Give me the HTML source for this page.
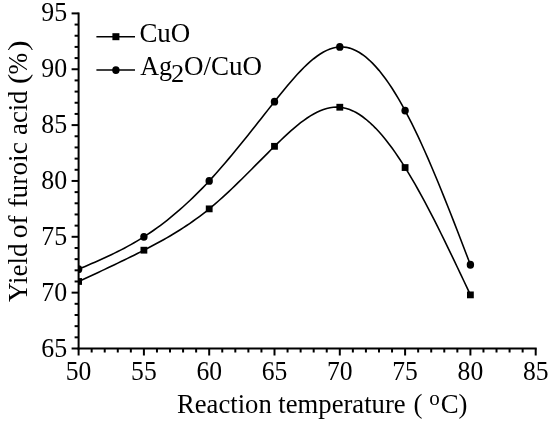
<!DOCTYPE html>
<html><head><meta charset="utf-8"><title>chart</title>
<style>
html,body{margin:0;padding:0;background:#fff;}
svg{display:block;}
text{font-family:"Liberation Serif","Times New Roman",serif;fill:#000;}
</style></head><body>
<svg width="550" height="425" viewBox="0 0 550 425">
<rect width="550" height="425" fill="#fff"/>

<g stroke="#000" stroke-width="2" fill="none" stroke-linecap="butt">
<path d="M78.6,12.399999999999977 V349.5"/>
<path d="M77.6,348.5 H536.7"/>
<path d="M78.60,348.5 v7"/>
<path d="M91.66,348.5 v4"/>
<path d="M104.72,348.5 v4"/>
<path d="M117.78,348.5 v4"/>
<path d="M130.84,348.5 v4"/>
<path d="M143.90,348.5 v7"/>
<path d="M156.96,348.5 v4"/>
<path d="M170.02,348.5 v4"/>
<path d="M183.08,348.5 v4"/>
<path d="M196.14,348.5 v4"/>
<path d="M209.20,348.5 v7"/>
<path d="M222.26,348.5 v4"/>
<path d="M235.32,348.5 v4"/>
<path d="M248.38,348.5 v4"/>
<path d="M261.44,348.5 v4"/>
<path d="M274.50,348.5 v7"/>
<path d="M287.56,348.5 v4"/>
<path d="M300.62,348.5 v4"/>
<path d="M313.68,348.5 v4"/>
<path d="M326.74,348.5 v4"/>
<path d="M339.80,348.5 v7"/>
<path d="M352.86,348.5 v4"/>
<path d="M365.92,348.5 v4"/>
<path d="M378.98,348.5 v4"/>
<path d="M392.04,348.5 v4"/>
<path d="M405.10,348.5 v7"/>
<path d="M418.16,348.5 v4"/>
<path d="M431.22,348.5 v4"/>
<path d="M444.28,348.5 v4"/>
<path d="M457.34,348.5 v4"/>
<path d="M470.40,348.5 v7"/>
<path d="M483.46,348.5 v4"/>
<path d="M496.52,348.5 v4"/>
<path d="M509.58,348.5 v4"/>
<path d="M522.64,348.5 v4"/>
<path d="M535.70,348.5 v7"/>
<path d="M78.6,348.50 h-7"/>
<path d="M78.6,337.33 h-4"/>
<path d="M78.6,326.16 h-4"/>
<path d="M78.6,314.99 h-4"/>
<path d="M78.6,303.82 h-4"/>
<path d="M78.6,292.65 h-7"/>
<path d="M78.6,281.48 h-4"/>
<path d="M78.6,270.31 h-4"/>
<path d="M78.6,259.14 h-4"/>
<path d="M78.6,247.97 h-4"/>
<path d="M78.6,236.80 h-7"/>
<path d="M78.6,225.63 h-4"/>
<path d="M78.6,214.46 h-4"/>
<path d="M78.6,203.29 h-4"/>
<path d="M78.6,192.12 h-4"/>
<path d="M78.6,180.95 h-7"/>
<path d="M78.6,169.78 h-4"/>
<path d="M78.6,158.61 h-4"/>
<path d="M78.6,147.44 h-4"/>
<path d="M78.6,136.27 h-4"/>
<path d="M78.6,125.10 h-7"/>
<path d="M78.6,113.93 h-4"/>
<path d="M78.6,102.76 h-4"/>
<path d="M78.6,91.59 h-4"/>
<path d="M78.6,80.42 h-4"/>
<path d="M78.6,69.25 h-7"/>
<path d="M78.6,58.08 h-4"/>
<path d="M78.6,46.91 h-4"/>
<path d="M78.6,35.74 h-4"/>
<path d="M78.6,24.57 h-4"/>
<path d="M78.6,13.40 h-7"/>
</g>
<clipPath id="pc"><rect x="78.6" y="0" width="480" height="348.5"/></clipPath><g clip-path="url(#pc)">
<path d="M78.60,281.48 L81.86,279.97 L85.13,278.47 L88.39,276.96 L91.66,275.44 L94.92,273.93 L98.19,272.41 L101.45,270.88 L104.72,269.35 L107.98,267.82 L111.25,266.27 L114.51,264.72 L117.78,263.15 L121.04,261.58 L124.31,259.99 L127.57,258.40 L130.84,256.79 L134.10,255.16 L137.37,253.53 L140.63,251.87 L143.90,250.20 L147.16,248.52 L150.43,246.81 L153.69,245.08 L156.96,243.32 L160.22,241.53 L163.49,239.71 L166.75,237.85 L170.02,235.95 L173.28,234.01 L176.55,232.02 L179.81,229.99 L183.08,227.90 L186.34,225.75 L189.61,223.54 L192.88,221.27 L196.14,218.94 L199.41,216.53 L202.67,214.06 L205.94,211.51 L209.20,208.88 L212.47,206.16 L215.73,203.37 L219.00,200.51 L222.26,197.59 L225.53,194.60 L228.79,191.56 L232.06,188.47 L235.32,185.34 L238.59,182.17 L241.85,178.96 L245.12,175.73 L248.38,172.48 L251.65,169.21 L254.91,165.93 L258.18,162.64 L261.44,159.35 L264.71,156.07 L267.97,152.81 L271.24,149.55 L274.50,146.32 L277.76,143.12 L281.03,139.96 L284.30,136.86 L287.56,133.83 L290.82,130.89 L294.09,128.05 L297.36,125.33 L300.62,122.73 L303.88,120.29 L307.15,118.00 L310.41,115.89 L313.68,113.97 L316.94,112.25 L320.21,110.76 L323.48,109.50 L326.74,108.49 L330.00,107.74 L333.27,107.27 L336.53,107.09 L339.80,107.23 L343.07,107.68 L346.33,108.45 L349.60,109.53 L352.86,110.90 L356.12,112.57 L359.39,114.53 L362.65,116.76 L365.92,119.26 L369.19,122.02 L372.45,125.04 L375.72,128.31 L378.98,131.81 L382.25,135.55 L385.51,139.51 L388.77,143.69 L392.04,148.07 L395.30,152.66 L398.57,157.44 L401.84,162.40 L405.10,167.55 L408.37,172.86 L411.63,178.34 L414.89,183.97 L418.16,189.74 L421.42,195.65 L424.69,201.69 L427.96,207.85 L431.22,214.12 L434.49,220.49 L437.75,226.95 L441.01,233.50 L444.28,240.13 L447.54,246.82 L450.81,253.58 L454.08,260.39 L457.34,267.23 L460.61,274.12 L463.87,281.02 L467.13,287.95 L470.40,294.88" stroke="#000" stroke-width="1.6" fill="none"/>
<path d="M78.60,269.19 L81.86,267.80 L85.13,266.41 L88.39,265.01 L91.66,263.60 L94.92,262.18 L98.19,260.74 L101.45,259.27 L104.72,257.79 L107.98,256.27 L111.25,254.73 L114.51,253.15 L117.78,251.53 L121.04,249.87 L124.31,248.17 L127.57,246.41 L130.84,244.61 L134.10,242.75 L137.37,240.83 L140.63,238.85 L143.90,236.80 L147.16,234.68 L150.43,232.50 L153.69,230.24 L156.96,227.92 L160.22,225.52 L163.49,223.05 L166.75,220.52 L170.02,217.91 L173.28,215.23 L176.55,212.47 L179.81,209.65 L183.08,206.75 L186.34,203.78 L189.61,200.74 L192.88,197.63 L196.14,194.44 L199.41,191.18 L202.67,187.84 L205.94,184.43 L209.20,180.95 L212.47,177.39 L215.73,173.76 L219.00,170.07 L222.26,166.32 L225.53,162.50 L228.79,158.64 L232.06,154.73 L235.32,150.78 L238.59,146.79 L241.85,142.76 L245.12,138.71 L248.38,134.63 L251.65,130.53 L254.91,126.41 L258.18,122.28 L261.44,118.15 L264.71,114.02 L267.97,109.88 L271.24,105.76 L274.50,101.64 L277.76,97.55 L281.03,93.49 L284.30,89.48 L287.56,85.54 L290.82,81.69 L294.09,77.94 L297.36,74.33 L300.62,70.85 L303.88,67.54 L307.15,64.40 L310.41,61.47 L313.68,58.74 L316.94,56.26 L320.21,54.02 L323.48,52.05 L326.74,50.38 L330.00,49.01 L333.27,47.96 L336.53,47.25 L339.80,46.91 L343.07,46.94 L346.33,47.34 L349.60,48.11 L352.86,49.24 L356.12,50.72 L359.39,52.54 L362.65,54.71 L365.92,57.20 L369.19,60.02 L372.45,63.16 L375.72,66.61 L378.98,70.36 L382.25,74.42 L385.51,78.76 L388.77,83.39 L392.04,88.30 L395.30,93.48 L398.57,98.92 L401.84,104.63 L405.10,110.58 L408.37,116.78 L411.63,123.21 L414.89,129.85 L418.16,136.71 L421.42,143.77 L424.69,151.00 L427.96,158.41 L431.22,165.98 L434.49,173.69 L437.75,181.54 L441.01,189.51 L444.28,197.59 L447.54,205.77 L450.81,214.03 L454.08,222.37 L457.34,230.77 L460.61,239.21 L463.87,247.70 L467.13,256.20 L470.40,264.73" stroke="#000" stroke-width="1.6" fill="none"/>
<rect x="75.20" y="278.08" width="6.8" height="6.8"/>
<rect x="140.50" y="246.80" width="6.8" height="6.8"/>
<rect x="205.80" y="205.47" width="6.8" height="6.8"/>
<rect x="271.10" y="142.92" width="6.8" height="6.8"/>
<rect x="336.40" y="103.83" width="6.8" height="6.8"/>
<rect x="401.70" y="164.15" width="6.8" height="6.8"/>
<rect x="467.00" y="291.48" width="6.8" height="6.8"/>
<ellipse cx="78.60" cy="269.19" rx="3.7" ry="3.9"/>
<ellipse cx="143.90" cy="236.80" rx="3.7" ry="3.9"/>
<ellipse cx="209.20" cy="180.95" rx="3.7" ry="3.9"/>
<ellipse cx="274.50" cy="101.64" rx="3.7" ry="3.9"/>
<ellipse cx="339.80" cy="46.91" rx="3.7" ry="3.9"/>
<ellipse cx="405.10" cy="110.58" rx="3.7" ry="3.9"/>
<ellipse cx="470.40" cy="264.73" rx="3.7" ry="3.9"/>
</g>
<path d="M96.4,36.7 H135 M96.4,70.1 H135" stroke="#000" stroke-width="1.5"/>
<rect x="112.4" y="33.2" width="7" height="7"/><ellipse cx="115.9" cy="70.1" rx="3.7" ry="3.9"/>
<text transform="translate(139.40,42.20) scale(0.962,1)" font-size="28" text-anchor="start">CuO</text>
<text transform="translate(140.20,75.40) scale(0.93,1)" font-size="28" text-anchor="start">Ag</text>
<text transform="translate(171.00,81.60) scale(1.08,1)" font-size="24.5" text-anchor="start">2</text>
<text transform="translate(184.00,75.40) scale(0.965,1)" font-size="28" text-anchor="start">O/CuO</text>
<text transform="translate(78.60,380.00) scale(0.915,1)" font-size="28" text-anchor="middle">50</text>
<text transform="translate(143.90,380.00) scale(0.915,1)" font-size="28" text-anchor="middle">55</text>
<text transform="translate(209.20,380.00) scale(0.915,1)" font-size="28" text-anchor="middle">60</text>
<text transform="translate(274.50,380.00) scale(0.915,1)" font-size="28" text-anchor="middle">65</text>
<text transform="translate(339.80,380.00) scale(0.915,1)" font-size="28" text-anchor="middle">70</text>
<text transform="translate(405.10,380.00) scale(0.915,1)" font-size="28" text-anchor="middle">75</text>
<text transform="translate(470.40,380.00) scale(0.915,1)" font-size="28" text-anchor="middle">80</text>
<text transform="translate(535.70,380.00) scale(0.915,1)" font-size="28" text-anchor="middle">85</text>
<text transform="translate(67.20,356.50) scale(0.925,1)" font-size="28" text-anchor="end">65</text>
<text transform="translate(67.20,300.65) scale(0.925,1)" font-size="28" text-anchor="end">70</text>
<text transform="translate(67.20,244.80) scale(0.925,1)" font-size="28" text-anchor="end">75</text>
<text transform="translate(67.20,188.95) scale(0.925,1)" font-size="28" text-anchor="end">80</text>
<text transform="translate(67.20,133.10) scale(0.925,1)" font-size="28" text-anchor="end">85</text>
<text transform="translate(67.20,77.25) scale(0.925,1)" font-size="28" text-anchor="end">90</text>
<text transform="translate(67.20,21.40) scale(0.925,1)" font-size="28" text-anchor="end">95</text>
<text transform="translate(177.00,412.50) scale(0.952,1)" font-size="28" text-anchor="start">Reaction temperature</text>
<text transform="translate(413.60,412.50) scale(0.958,1)" font-size="28" text-anchor="start">( <tspan font-size="22" dy="-7.8">o</tspan><tspan dy="7.8" dx="1">C)</tspan></text>
<text transform="translate(26.5,302) rotate(-90) scale(1.015,1)" font-size="26.6">Yield</text>
<text transform="translate(26.5,238.2) rotate(-90) scale(1.03,1)" font-size="26.6">of</text>
<text transform="translate(26.5,207.5) rotate(-90) scale(1.028,1)" font-size="26.6">furoic</text>
<text transform="translate(26.5,134.9) rotate(-90) scale(1.0,1)" font-size="26.6">acid</text>
<text transform="translate(26.5,84.2) rotate(-90) scale(1.2,1)" font-size="26.6">(</text>
<text transform="translate(26.5,74.5) rotate(-90) scale(0.98,1)" font-size="26.6">%</text>
<text transform="translate(26.5,51) rotate(-90) scale(1.2,1)" font-size="26.6">)</text>
</svg></body></html>
